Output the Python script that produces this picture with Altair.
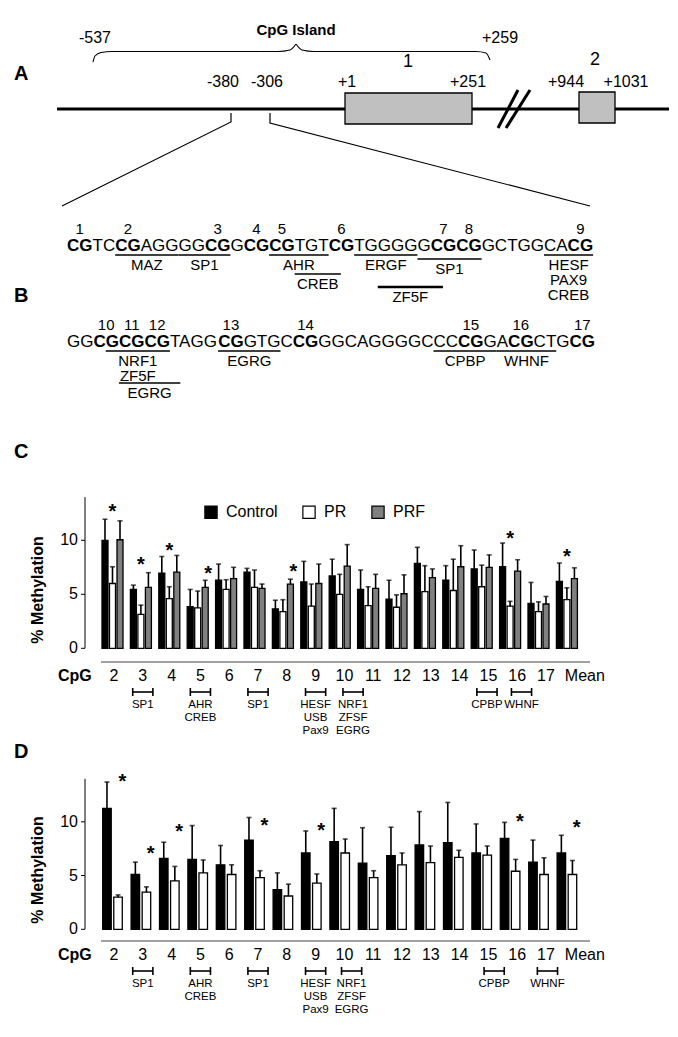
import altair as alt
import pandas as pd

FONT = "Liberation Sans"

# ------------------------------------------------------------------ data
cpg_sites = ["2", "3", "4", "5", "6", "7", "8", "9", "10", "11", "12",
             "13", "14", "15", "16", "17", "Mean"]
groups_c = ["Control", "PR", "PRF"]
groups_d = ["Control", "PR"]

# panel C : % methylation (mean) and SEM
c_control = [10.0, 5.45, 6.95, 3.85, 6.3, 7.05, 3.65, 6.15, 6.7, 5.45, 4.55, 7.85, 6.3, 7.35, 7.55, 4.15, 6.2]
c_control_sem = [1.95, 0.4, 1.55, 1.6, 1.5, 0.35, 0.8, 1.9, 1.55, 1.8, 1.75, 1.5, 1.35, 1.75, 2.2, 1.95, 1.7]
c_pr = [6.0, 3.15, 4.6, 3.75, 5.45, 5.65, 3.4, 3.9, 5.0, 3.95, 3.8, 5.25, 5.35, 5.7, 3.9, 3.4, 4.5]
c_pr_sem = [1.55, 0.85, 1.1, 1.55, 0.9, 1.6, 1.1, 2.05, 1.85, 1.75, 1.15, 2.4, 2.9, 2.0, 0.45, 0.9, 1.1]
c_prf = [10.05, 5.65, 7.05, 5.65, 6.45, 5.55, 5.95, 6.0, 7.6, 5.55, 5.05, 6.55, 7.55, 7.5, 7.15, 4.1, 6.45]
c_prf_sem = [1.75, 1.35, 1.55, 0.65, 1.05, 0.4, 0.45, 1.8, 2.0, 1.3, 1.75, 0.8, 1.95, 1.15, 1.05, 0.7, 1.0]

c_star_sites = ["2", "3", "4", "5", "8", "16", "Mean"]
c_star_group = ["PR", "PR", "PR", "PRF", "PRF", "PR", "PR"]
c_star_level = [12.95, 8.1, 9.4, 7.25, 7.45, 10.45, 8.85]

# panel D
d_control = [11.25, 5.1, 6.6, 6.5, 6.0, 8.3, 3.7, 7.1, 8.15, 6.15, 6.85, 7.85, 8.05, 7.1, 8.45, 6.25, 7.1]
d_control_sem = [2.45, 1.15, 1.5, 3.15, 1.8, 2.1, 1.55, 2.05, 3.1, 3.3, 2.65, 3.1, 3.75, 2.7, 1.5, 2.05, 1.65]
d_pr = [3.0, 3.45, 4.5, 5.25, 5.1, 4.8, 3.1, 4.3, 7.1, 4.8, 6.0, 6.2, 6.7, 6.9, 5.4, 5.1, 5.1]
d_pr_sem = [0.2, 0.5, 1.35, 1.2, 0.9, 0.65, 1.1, 0.85, 1.3, 0.65, 1.1, 1.55, 0.65, 0.85, 1.1, 1.55, 1.3]

d_star_sites = ["2", "3", "4", "7", "9", "16", "Mean"]
d_star_group = ["PR"] * 7
d_star_level = [14.1, 7.4, 9.4, 10.0, 9.55, 10.4, 9.75]

y_ticks = [0, 5, 10]

# transcription-factor sites under the CpG axis
c_tf_sites = ["3", "5", "7", "9", "10", "15", "16"]
c_tf_names = ["SP1", "AHR\nCREB", "SP1", "HESF\nUSB\nPax9", "NRF1\nZFSF\nEGRG", "CPBP", "WHNF"]
d_tf_sites = ["3", "5", "7", "9", "10", "15", "17"]
d_tf_names = ["SP1", "AHR\nCREB", "SP1", "HESF\nUSB\nPax9", "NRF1\nZFSF\nEGRG", "CPBP", "WHNF"]

# sequence (panel B): segments, bold = CpG
seq_row1 = ["CG", "TC", "CG", "AGGGG", "CG", "G", "CG", "CG", "TGT", "CG", "TGGGGG", "CG", "CG", "GCTGGCA", "CG"]
seq_row1_bold = [1, 0, 1, 0, 1, 0, 1, 1, 0, 1, 0, 1, 1, 0, 1]
seq_row2 = ["GG", "CGCGCG", "TAGG", "CG", "GTGC", "CG", "GGCAGGGGCCC", "CG", "GA", "CG", "CTG", "CG"]
seq_row2_bold = [0, 1, 0, 1, 0, 1, 0, 1, 0, 1, 0, 1]

# binding sites on the sequence: (row, first char, last char, labels, level)
site_row = [1, 1, 1, 1, 1, 1, 1, 1, 2, 2, 2, 2, 2]
site_from = [5, 10, 17, 19, 24, 29, 26, 39, 4, 5, 13, 30, 35]
site_to = [9, 13, 21, 22, 28, 33, 30, 42, 8, 9, 17, 34, 39]
site_names = ["MAZ", "SP1", "AHR", "CREB", "ERGF", "SP1", "ZF5F", "HESF\nPAX9\nCREB",
              "NRF1\nZF5F", "EGRG", "EGRG", "CPBP", "WHNF"]
site_level = [0, 0, 0, 2, 0, 1, 3, 0, 0, 3, 0, 0, 0]

# gene map labels (panel A)
map_labels = ["-537", "+259", "-380", "-306", "+1", "+251", "+944", "+1031"]
exon_names = ["1", "2"]

# ------------------------------------------------------------------ canvas (page pixels)
OFF = 8                 # page margin: plot origin sits at page (8, 8)
W, H = 662, 1020


def pv(v):
    return v - OFF


page_x = alt.Scale(domain=[OFF, OFF + W], range=[0, W], nice=False, zero=False)
page_y = alt.Scale(domain=[OFF, OFF + H], range=[0, H], nice=False, zero=False)


def PX(f="x"):
    return alt.X(f"{f}:Q", scale=page_x, axis=None)


def PY(f="y"):
    return alt.Y(f"{f}:Q", scale=page_y, axis=None)


def texts(df, size, weight="normal", align="center", baseline="middle", line_h=None):
    kw = dict(font=FONT, fontSize=size, fontWeight=weight, align=align,
              baseline=baseline, color="black")
    if line_h:
        kw.update(lineBreak="\n", lineHeight=line_h)
    return alt.Chart(df).mark_text(**kw).encode(x=PX(), y=PY(), text="t:N")


# ---- panel A: gene map
map_x = [95, 500, 223, 267, 347, 468, 566, 626]
map_y = [38, 38, 82, 82, 82, 82, 82, 82]
lab_df = pd.DataFrame({"t": map_labels, "x": map_x, "y": map_y})
exon_df = pd.DataFrame({"t": exon_names, "x": [408, 595], "y": [62, 60]})
title_df = pd.DataFrame({"t": ["CpG Island"], "x": [296], "y": [30]})
letter_df = pd.DataFrame({"t": ["A", "B"], "x": [14, 14], "y": [74, 296]})

line_pts = [
    ("main", 3.0, [(57, 109), (669, 109)]),
    ("zl", 1.2, [(231, 113), (231, 122), (62, 206)]),
    ("zr", 1.2, [(270, 113), (270, 123), (590, 206)]),
    ("s1", 3.0, [(498, 128), (518, 90)]),
    ("s2", 3.0, [(506, 128), (530, 90)]),
]
rows = []
for name, w, pts in line_pts:
    for i, (x, y) in enumerate(pts):
        rows.append(dict(seg=name, w=w, o=i, x=x, y=y))
lines_df = pd.DataFrame(rows)

brace_pts = [
    ("bl", [(93, 62), (95, 56), (101, 52.5), (112, 51.5), (278, 51.5), (290, 50), (296, 44)]),
    ("br", [(296, 44), (302, 50), (314, 51.5), (476, 51.5), (486, 53), (490, 60)]),
]
rows = []
for name, pts in brace_pts:
    for i, (x, y) in enumerate(pts):
        rows.append(dict(seg=name, o=i, x=x, y=y))
brace_df = pd.DataFrame(rows)

box_df = pd.DataFrame({"x": [345, 579], "x2": [472, 615], "y": [93, 92], "y2": [124, 123]})

# ---- panel B: sequence layout (Arial advance widths)
CW = {"A": 0.667, "C": 0.722, "G": 0.778, "T": 0.611}
SEQ_FS = 17
SEQ_X = 67
ROW_Y = {1: 246, 2: 342}
NUM_Y = {1: 229, 2: 325}
LINE_DY = {0: 9, 1: 13, 2: 28, 3: 41}


def layout_row(segs, bolds, row, first_num):
    x = SEQ_X
    seg_rows, chars, nums = [], [], []
    n = first_num
    for s, b in zip(segs, bolds):
        seg_rows.append(dict(t=s, x=x, y=ROW_Y[row], b=b))
        start = len(chars)
        for ch in s:
            chars.append((x, x + CW[ch] * SEQ_FS))
            x += CW[ch] * SEQ_FS
        if b:
            for k in range(0, len(s), 2):
                c0 = chars[start + k][0]
                c1 = chars[start + k + 1][1]
                nums.append(dict(t=str(n), x=(c0 + c1) / 2, y=NUM_Y[row]))
                n += 1
    return seg_rows, chars, nums, n


s1, ch1, n1, nxt = layout_row(seq_row1, seq_row1_bold, 1, 1)
s2, ch2, n2, _ = layout_row(seq_row2, seq_row2_bold, 2, nxt)
seg_df = pd.DataFrame(s1 + s2)
num_df = pd.DataFrame(n1 + n2)
chars = {1: ch1, 2: ch2}

ul_rows, ul_lab = [], []
for r, a, b, nm, lv in zip(site_row, site_from, site_to, site_names, site_level):
    xa = chars[r][a - 1][0]
    xb = chars[r][b - 1][1]
    yl = ROW_Y[r] + LINE_DY[lv]
    ul_rows.append(dict(x=xa, x2=xb, y=yl, w=2.4 if (lv == 3 and r == 1) else 1.3))
    ul_lab.append(dict(t=nm, x=(xa + xb) / 2, y=yl + 3))
ul_df = pd.DataFrame(ul_rows)
ul_lab_df = pd.DataFrame(ul_lab)

top_layers = [
    alt.Chart(lines_df).mark_line(color="black", strokeCap="butt").encode(
        x=PX(), y=PY(), detail="seg:N", order="o:Q",
        strokeWidth=alt.StrokeWidth("w:Q", scale=None)),
    alt.Chart(brace_df).mark_line(color="black", strokeWidth=1.1, interpolate="monotone").encode(
        x=PX(), y=PY(), detail="seg:N", order="o:Q"),
    alt.Chart(box_df).mark_rect(fill="#c0c0c0", stroke="black", strokeWidth=1.3).encode(
        x=PX(), x2="x2:Q", y=PY(), y2="y2:Q"),
    texts(lab_df, 16),
    texts(exon_df, 18),
    texts(title_df, 15, "bold"),
    texts(letter_df, 20, "bold", align="left"),
    alt.Chart(seg_df).transform_filter("datum.b == 1").mark_text(
        font=FONT, fontSize=SEQ_FS, fontWeight="bold", align="left", baseline="middle", color="black"
    ).encode(x=PX(), y=PY(), text="t:N"),
    alt.Chart(seg_df).transform_filter("datum.b == 0").mark_text(
        font=FONT, fontSize=SEQ_FS, align="left", baseline="middle", color="black"
    ).encode(x=PX(), y=PY(), text="t:N"),
    texts(num_df, 15),
    alt.Chart(ul_df).mark_rule(color="black").encode(
        x=PX(), x2="x2:Q", y=PY(), strokeWidth=alt.StrokeWidth("w:Q", scale=None)),
    texts(ul_lab_df, 15, baseline="top", line_h=15),
]


# ------------------------------------------------------------------ bar panels
def long_df(series):
    rows = []
    for g, (vals, sems) in series.items():
        for s, v, e in zip(cpg_sites, vals, sems):
            rows.append(dict(cpg=s, grp=g, val=v, sem=e))
    return pd.DataFrame(rows)


BAR_X0, BAR_X1 = 100, 579.4
AXIS_X = 85
LAB_STEP = 28.8
LAB_X0 = 114
LAB_NUDGE = [0] * 16 + [0.35]


def bar_layers(df, groups, colors, inner, outer, off_inner, star_df, tf_sites, tf_names,
               tf_nudge, letter, letter_y, title_y, zero_y, ppu, lab_y, line_y, br_y, legend):
    yscale = alt.Scale(domain=[0, 14], range=[pv(zero_y), pv(zero_y - 14 * ppu)],
                       nice=False, zero=False)
    xband = alt.Scale(domain=cpg_sites, range=[pv(BAR_X0), pv(BAR_X1)],
                      paddingInner=inner, paddingOuter=outer)
    xcat = alt.X("cpg:N", sort=cpg_sites, scale=xband, axis=None, title=None)
    xoff = alt.XOffset("grp:N", sort=groups,
                       scale=alt.Scale(domain=groups, paddingInner=off_inner, paddingOuter=0))

    def yv(f):
        return alt.Y(f, scale=yscale, axis=None, title=None)

    if legend:
        leg = alt.Legend(orient="none", legendX=pv(203), legendY=pv(504), direction="horizontal",
                         title=None, symbolType="square", symbolSize=150,
                         symbolStrokeColor="black", symbolStrokeWidth=1.2, symbolOpacity=1,
                         labelFontSize=16, labelFont=FONT, labelColor="black",
                         columnPadding=22, labelOffset=7)
    else:
        leg = None
    base = alt.Chart(df)
    bars = base.mark_bar(stroke="black", strokeWidth=1.3).encode(
        x=xcat, xOffset=xoff, y=yv("val:Q"),
        fill=alt.Fill("grp:N", scale=alt.Scale(domain=groups, range=colors), legend=leg))
    err = base.transform_calculate(up="datum.val + datum.sem").mark_rule(
        color="black", strokeWidth=1.6).encode(x=xcat, xOffset=xoff, y=yv("val:Q"), y2="up:Q")
    cap = base.transform_calculate(up="datum.val + datum.sem").mark_tick(
        color="black", thickness=1.6, size=5).encode(x=xcat, xOffset=xoff, y=yv("up:Q"))
    stars = alt.Chart(star_df).mark_text(
        text="*", font=FONT, fontSize=20, fontWeight="bold", baseline="alphabetic",
        dy=10, color="black").encode(x=xcat, xOffset=xoff, y=yv("lvl:Q"))

    # y axis drawn through the panel's y scale
    ext = pd.DataFrame({"a": [0], "b": [14]})
    tk = pd.DataFrame({"v": y_ticks})
    ax_line = alt.Chart(ext).mark_rule(color="black", strokeWidth=1).encode(
        x=alt.value(pv(AXIS_X)), y=yv("a:Q"), y2="b:Q")
    ax_ticks = alt.Chart(tk).mark_rule(color="black", strokeWidth=1).encode(
        x=alt.value(pv(AXIS_X - 4)), x2=alt.value(pv(AXIS_X)), y=yv("v:Q"))
    ax_labels = alt.Chart(tk).mark_text(font=FONT, fontSize=16, align="right", baseline="middle",
                                        color="black").encode(
        x=alt.value(pv(AXIS_X - 7)), y=yv("v:Q"), text="v:Q")

    qscale = alt.Scale(domain=[0, 16], range=[pv(LAB_X0), pv(LAB_X0 + 16 * LAB_STEP)],
                       nice=False, zero=False)
    lab_df = pd.DataFrame({"t": cpg_sites,
                           "pos": [i + n for i, n in zip(range(len(cpg_sites)), LAB_NUDGE)]})
    labels = alt.Chart(lab_df).mark_text(font=FONT, fontSize=16, color="black",
                                         baseline="middle").encode(
        x=alt.X("pos:Q", scale=qscale, axis=None), y=alt.value(pv(lab_y)), text="t:N")
    pos = [cpg_sites.index(s) + n for s, n in zip(tf_sites, tf_nudge)]
    br = pd.DataFrame({"pos": pos, "lo": [p - 0.35 for p in pos], "hi": [p + 0.35 for p in pos],
                       "t": tf_names})
    br_h = alt.Chart(br).mark_rule(color="black", strokeWidth=1.6).encode(
        x=alt.X("lo:Q", scale=qscale, axis=None), x2="hi:Q", y=alt.value(pv(br_y)))
    br_l = alt.Chart(br).mark_rule(color="black", strokeWidth=1.6).encode(
        x=alt.X("lo:Q", scale=qscale, axis=None),
        y=alt.value(pv(br_y - 4)), y2=alt.value(pv(br_y + 4)))
    br_r = alt.Chart(br).mark_rule(color="black", strokeWidth=1.6).encode(
        x=alt.X("hi:Q", scale=qscale, axis=None),
        y=alt.value(pv(br_y - 4)), y2=alt.value(pv(br_y + 4)))
    tf = alt.Chart(br).mark_text(font=FONT, fontSize=11.5, color="black", baseline="top",
                                 lineBreak="\n", lineHeight=13).encode(
        x=alt.X("pos:Q", scale=qscale, axis=None), y=alt.value(pv(br_y + 7)), text="t:N")
    one = pd.DataFrame({"t": ["x"]})
    xline = alt.Chart(one).mark_rule(color="#444444", strokeWidth=1).encode(
        x=alt.value(pv(101)), x2=alt.value(pv(590)), y=alt.value(pv(line_y)))
    cpg_t = alt.Chart(one).mark_text(font=FONT, fontSize=16, fontWeight="bold", align="left",
                                     baseline="middle", color="black", text="CpG").encode(
        x=alt.value(pv(58)), y=alt.value(pv(lab_y)))
    let_t = alt.Chart(one).mark_text(font=FONT, fontSize=20, fontWeight="bold", align="left",
                                     baseline="middle", color="black", text=letter).encode(
        x=alt.value(pv(14)), y=alt.value(pv(letter_y)))
    ttl = alt.Chart(one).mark_text(font=FONT, fontSize=16, fontWeight="bold", angle=270,
                                   baseline="middle", color="black", text="% Methylation").encode(
        x=alt.value(pv(38)), y=alt.value(pv(title_y)))
    return [bars, err, cap, stars, ax_line, ax_ticks, ax_labels, labels, br_h, br_l, br_r, tf,
            xline, cpg_t, let_t, ttl]


c_df = long_df({"Control": (c_control, c_control_sem), "PR": (c_pr, c_pr_sem),
                "PRF": (c_prf, c_prf_sem)})
d_df = long_df({"Control": (d_control, d_control_sem), "PR": (d_pr, d_pr_sem)})
c_star_df = pd.DataFrame({"cpg": c_star_sites, "grp": c_star_group, "lvl": c_star_level})
d_star_df = pd.DataFrame({"cpg": d_star_sites, "grp": d_star_group, "lvl": d_star_level})

c_layers = bar_layers(c_df, groups_c, ["black", "white", "#808080"], 0.26, 0.07, 0.2, c_star_df,
                      c_tf_sites, c_tf_names, [0, 0, 0, 0, 0.3, -0.05, 0.15],
                      "C", 452, 590, 648.3, 10.8, 676, 662, 692, True)
d_layers = bar_layers(d_df, groups_d, ["black", "white"], 0.31, 0.095, 0.23, d_star_df,
                      d_tf_sites, d_tf_names, [0, 0, 0, 0, 0.25, 0.2, 0.05],
                      "D", 752, 870, 929.3, 10.75, 955, 941, 971, False)

chart = alt.layer(*(top_layers + c_layers + d_layers)).resolve_scale(
    x="independent", y="independent", fill="independent", xOffset="independent"
).resolve_legend(fill="independent").properties(
    width=W, height=H, padding=0, autosize=alt.AutoSizeParams(type="none"),
    background="white",
).configure(font=FONT).configure_view(stroke="transparent", strokeWidth=0)

chart.save("out.html", embed_options={"renderer": "svg", "actions": False})
